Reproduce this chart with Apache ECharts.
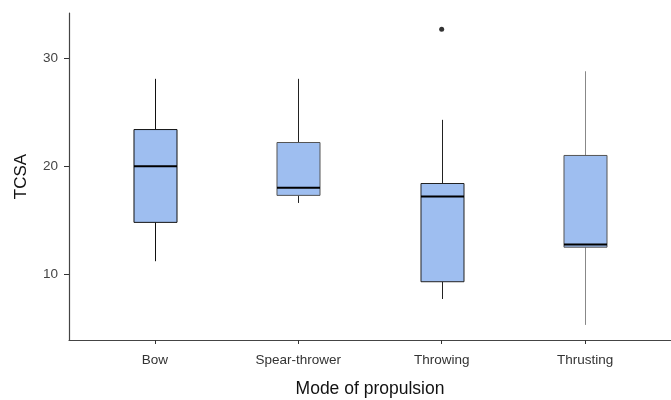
<!DOCTYPE html>
<html>
<head>
<meta charset="utf-8">
<script src="https://cdn.jsdelivr.net/npm/echarts@6/dist/echarts.min.js"></script>
<style>
  html, body { margin: 0; padding: 0; background: #fff; }
  #grafica { width: 671px; height: 400px; }
</style>
</head>
<body>
<div id="grafica"></div>
<script>
// datos
var categorias = ['Bow', 'Spear-thrower', 'Throwing', 'Thrusting'];
var bigoteInf = [11.2, 16.6, 7.7, 5.3];
var q1 = [14.8, 17.3, 9.3, 12.5];
var mediana = [20.0, 18.0, 17.2, 12.75];
var q3 = [23.4, 22.2, 18.4, 21.0];
var bigoteSup = [28.1, 28.1, 24.3, 28.8];
var atipicos = [['Throwing', 32.7]];
var ticksY = [10, 20, 30];
var colorBigote = ['#111', '#222', '#222', '#888'];
var colorBorde = ['#111', '#555', '#222', '#555'];

var datosCaja = [];
for (var i = 0; i < categorias.length; i++) {
    datosCaja.push([i, bigoteInf[i], q1[i], mediana[i], q3[i], bigoteSup[i]]);
}

var fuente = 'Liberation Sans, Arial, sans-serif';
var yMin = 3.9, yMax = 34.2;

function dibujaCaja(params, api) {
    var x = api.value(0);
    var i = params.dataIndex;
    var ancho = api.size([1, 0])[0] * 0.3;
    var pInf = api.coord([x, api.value(1)]);
    var pQ1 = api.coord([x, api.value(2)]);
    var pMed = api.coord([x, api.value(3)]);
    var pQ3 = api.coord([x, api.value(4)]);
    var pSup = api.coord([x, api.value(5)]);
    var cx = Math.round(pMed[0]) + 0.5;
    return {
        type: 'group',
        children: [
            { type: 'line', shape: { x1: cx, y1: pSup[1], x2: cx, y2: pQ3[1] },
              style: { stroke: colorBigote[i], lineWidth: 1 } },
            { type: 'line', shape: { x1: cx, y1: pQ1[1], x2: cx, y2: pInf[1] },
              style: { stroke: colorBigote[i], lineWidth: 1 } },
            { type: 'rect', shape: { x: cx - ancho / 2, y: pQ3[1], width: ancho, height: pQ1[1] - pQ3[1] },
              style: { fill: '#9ebef0', stroke: colorBorde[i], lineWidth: 1 } },
            { type: 'line', shape: { x1: cx - ancho / 2, y1: pMed[1], x2: cx + ancho / 2, y2: pMed[1] },
              style: { stroke: '#000', lineWidth: 2 } }
        ]
    };
}

var myChart = echarts.init(document.getElementById('grafica'), null, { renderer: 'canvas' });
var option = {
    animation: false,
    backgroundColor: '#fff',
    grid: [
        { left: 69, right: 0, top: 13, bottom: 60, containLabel: false, outerBoundsMode: 'none' },
        { left: 83.3, right: 14.3, top: 13, bottom: 60, containLabel: false, outerBoundsMode: 'none' }
    ],
    xAxis: [
        {
            gridIndex: 0, type: 'value', min: 0, max: 1,
            axisLine: { show: true, lineStyle: { color: '#444', width: 1.2 } },
            axisTick: { show: false }, axisLabel: { show: false }, splitLine: { show: false },
            name: 'Mode of propulsion', nameLocation: 'middle', nameGap: 40,
            nameTextStyle: { fontFamily: fuente, fontSize: 17.5, color: '#111' }
        },
        {
            gridIndex: 1, type: 'category', data: categorias,
            axisLine: { show: false },
            axisTick: { show: true, alignWithLabel: true, length: 4, lineStyle: { color: '#333' } },
            axisLabel: { fontFamily: fuente, fontSize: 13.5, color: '#333', margin: 13 },
            splitLine: { show: false }
        }
    ],
    yAxis: [
        {
            gridIndex: 0, type: 'value', min: yMin, max: yMax,
            axisLine: { show: true, lineStyle: { color: '#444', width: 1.2 } },
            axisTick: { show: true, length: 5, customValues: ticksY, lineStyle: { color: '#333' } },
            axisLabel: { fontFamily: fuente, fontSize: 13.5, color: '#444', margin: 11, customValues: ticksY },
            splitLine: { show: false },
            name: 'TCSA', nameLocation: 'middle', nameGap: 39,
            nameTextStyle: { fontFamily: fuente, fontSize: 17, color: '#111' }
        },
        {
            gridIndex: 1, type: 'value', min: yMin, max: yMax,
            axisLine: { show: false }, axisTick: { show: false },
            axisLabel: { show: false }, splitLine: { show: false }
        }
    ],
    series: [
        {
            type: 'custom', xAxisIndex: 1, yAxisIndex: 1,
            renderItem: dibujaCaja,
            encode: { x: 0, y: [1, 2, 3, 4, 5] },
            data: datosCaja
        },
        {
            type: 'scatter', xAxisIndex: 1, yAxisIndex: 1,
            symbolSize: 5,
            itemStyle: { color: '#000' },
            data: atipicos
        }
    ]
};
myChart.setOption(option);
</script>
</body>
</html>
